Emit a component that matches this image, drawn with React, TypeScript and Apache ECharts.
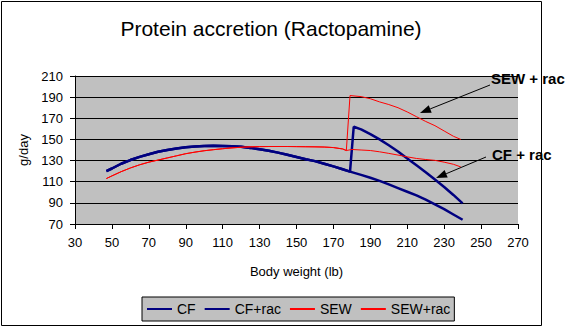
import React, { useEffect, useRef } from "react";
import * as echarts from "echarts";

const FONT = "'Liberation Sans', Arial, sans-serif";

const chartTitle = "Protein accretion (Ractopamine)";
const xAxisTitle = "Body weight (lb)";
const yAxisTitle = "g/day";
const seriesNames = ["CF", "CF+rac", "SEW", "SEW+rac"];
const xRange = [30, 270];
const yRange = [70, 210];
const tickStep = 20;

// shared early part (before ractopamine)
const earlyWeight = [47, 50, 55, 60, 65, 70, 75, 80, 85, 90, 95, 100, 105, 110, 115, 120, 125, 130, 135, 140, 145, 150, 155, 160, 165, 170, 175, 179];
const cfEarly = [120, 122.5, 127, 130.5, 133.5, 136, 138.3, 140, 141.5, 142.6, 143.3, 143.8, 144, 143.9, 143.6, 143, 142, 140.8, 139.3, 137.5, 135.5, 133.4, 131.3, 129.5, 127, 124.5, 121.8, 119.5];

const cfLateWeight = [185, 190, 195, 200, 205, 210, 215, 220, 225, 230, 235, 240];
const cfLate = [116.5, 113.8, 110.8, 107.5, 104, 100.5, 97, 93, 88.5, 84, 79, 74];

const cfRacLateWeight = [181, 185, 190, 195, 200, 205, 210, 215, 220, 225, 230, 235, 240];
const cfRacLate = [162, 159.5, 155, 150, 144.5, 138.5, 132, 125.5, 119, 112, 105, 97.5, 89.5];

const sewWeight = [47, 50, 55, 60, 65, 70, 75, 80, 85, 90, 95, 100, 105, 110, 115, 120, 125, 130, 135, 140, 145, 150, 155, 160, 165, 170, 175, 177, 180, 185, 190, 195, 200, 205, 210, 215, 220, 225, 230, 235, 239];
const sewValue = [113, 115.5, 119.5, 123, 126, 128.5, 130.5, 132.5, 134.5, 136.5, 138, 139.3, 140.3, 141.2, 142, 142.6, 143, 143.2, 143.3, 143.3, 143.3, 143.2, 143.1, 143, 142.8, 142.3, 141, 139.5, 140.5, 140, 139.5, 138.3, 136.8, 135.2, 133.5, 132, 131, 130.2, 128.5, 126.5, 124];
const sewSplitIndex = 28; // SEW+rac leaves SEW after 177 lb

const sewRacLateWeight = [179, 185, 190, 195, 200, 205, 210, 215, 220, 225, 230, 235, 239];
const sewRacLate = [191.5, 190.5, 188.5, 185.5, 183, 180, 176, 171.5, 167, 163, 158, 153, 150];

const annotations = ["SEW + rac", "CF + rac"];

const pair = (xs: number[], ys: number[]) => xs.map((x, i) => [x, ys[i]]);

function arrow(x1: number, y1: number, x2: number, y2: number) {
  const dx = x2 - x1;
  const dy = y2 - y1;
  const len = Math.hypot(dx, dy);
  const ux = dx / len;
  const uy = dy / len;
  const L = 11;
  const W = 4;
  const bx = x2 - ux * L;
  const by = y2 - uy * L;
  return [
    { type: "line", z: 100, shape: { x1, y1, x2: bx, y2: by }, style: { stroke: "#000", lineWidth: 1 } },
    {
      type: "polygon",
      z: 100,
      shape: { points: [[x2, y2], [bx - uy * W, by + ux * W], [bx + uy * W, by - ux * W]] },
      style: { fill: "#000" },
    },
  ];
}

export default function App() {
  const ref = useRef<HTMLDivElement>(null);
  useEffect(() => {
    if (!ref.current) return;
    const chart = echarts.init(ref.current, null, { renderer: "svg" });
    const navy = "#000080";
    const red = "#ff0000";
    const cfData = pair(earlyWeight.concat(cfLateWeight), cfEarly.concat(cfLate));
    const cfRacData = pair(earlyWeight.concat(cfRacLateWeight), cfEarly.concat(cfRacLate));
    const sewData = pair(sewWeight, sewValue);
    const sewRacData = pair(
      sewWeight.slice(0, sewSplitIndex).concat(sewRacLateWeight),
      sewValue.slice(0, sewSplitIndex).concat(sewRacLate)
    );
    const lineSeries = (name: string, data: number[][], color: string, width: number) => ({
      name,
      type: "line",
      data,
      symbol: "none",
      showSymbol: false,
      smooth: false,
      color,
      lineStyle: { color, width },
      emphasis: { disabled: true },
    });
    const axisLine = { show: true, onZero: false, lineStyle: { color: "#000", width: 1 } };
    chart.setOption({
      animation: false,
      textStyle: { fontFamily: FONT },
      grid: {
        left: 75,
        top: 76,
        width: 443,
        height: 148,
        show: true,
        backgroundColor: "#c0c0c0",
        borderWidth: 0,
      },
      xAxis: {
        type: "value",
        min: xRange[0],
        max: xRange[1],
        interval: tickStep,
        axisLine,
        axisTick: { show: true, length: 5, lineStyle: { color: "#000" } },
        axisLabel: { color: "#000", fontSize: 13, margin: 12, fontFamily: FONT },
        splitLine: { show: false },
        name: xAxisTitle,
        nameLocation: "middle",
        nameGap: 41,
        nameTextStyle: { color: "#000", fontSize: 13, fontFamily: FONT },
      },
      yAxis: {
        type: "value",
        min: yRange[0],
        max: yRange[1],
        interval: tickStep,
        axisLine,
        axisTick: { show: true, length: 5, lineStyle: { color: "#000" } },
        axisLabel: { color: "#000", fontSize: 13, margin: 12, fontFamily: FONT },
        splitLine: { show: true, lineStyle: { color: "#000", width: 1 } },
        name: yAxisTitle,
        nameLocation: "middle",
        nameGap: 37,
        nameRotate: 90,
        nameTextStyle: { color: "#000", fontSize: 13, fontFamily: FONT },
      },
      legend: {
        data: seriesNames,
        left: 142,
        top: 297,
        orient: "horizontal",
        itemWidth: 25,
        itemHeight: 14,
        itemGap: 8,
        padding: [5, 4],
        backgroundColor: "#c0c0c0",
        borderColor: "#000",
        borderWidth: 1,
        borderRadius: 0,
        selectedMode: false,
        itemStyle: { opacity: 0 },
        textStyle: { color: "#000", fontSize: 14, fontFamily: FONT },
      },
      series: [
        lineSeries(seriesNames[0], cfData, navy, 2.5),
        lineSeries(seriesNames[1], cfRacData, navy, 2.5),
        lineSeries(seriesNames[2], sewData, red, 1),
        lineSeries(seriesNames[3], sewRacData, red, 1),
      ],
      graphic: [
        {
          type: "rect",
          z: 0,
          shape: { x: 1.5, y: 1.5, width: 540, height: 324 },
          style: { fill: "none", stroke: "#000", lineWidth: 1 },
        },
        {
          type: "text",
          x: 271,
          y: 28,
          style: { text: chartTitle, fontSize: 21, fontFamily: FONT, fill: "#000", align: "center", verticalAlign: "middle" },
        },
        {
          type: "text",
          z: 100,
          x: 491,
          y: 78,
          style: { text: annotations[0], fontSize: 15, fontWeight: "bold", fontFamily: FONT, fill: "#000", align: "left", verticalAlign: "middle" },
        },
        {
          type: "text",
          z: 100,
          x: 492,
          y: 154,
          style: { text: annotations[1], fontSize: 15, fontWeight: "bold", fontFamily: FONT, fill: "#000", align: "left", verticalAlign: "middle" },
        },
        ...arrow(490, 85, 420, 113),
        ...arrow(486, 157, 436, 178),
      ],
    });
    return () => chart.dispose();
  }, []);
  return (
    <div
      ref={ref}
      style={{ position: "fixed", left: 0, top: 0, width: 566, height: 327, background: "#fff" }}
    />
  );
}
